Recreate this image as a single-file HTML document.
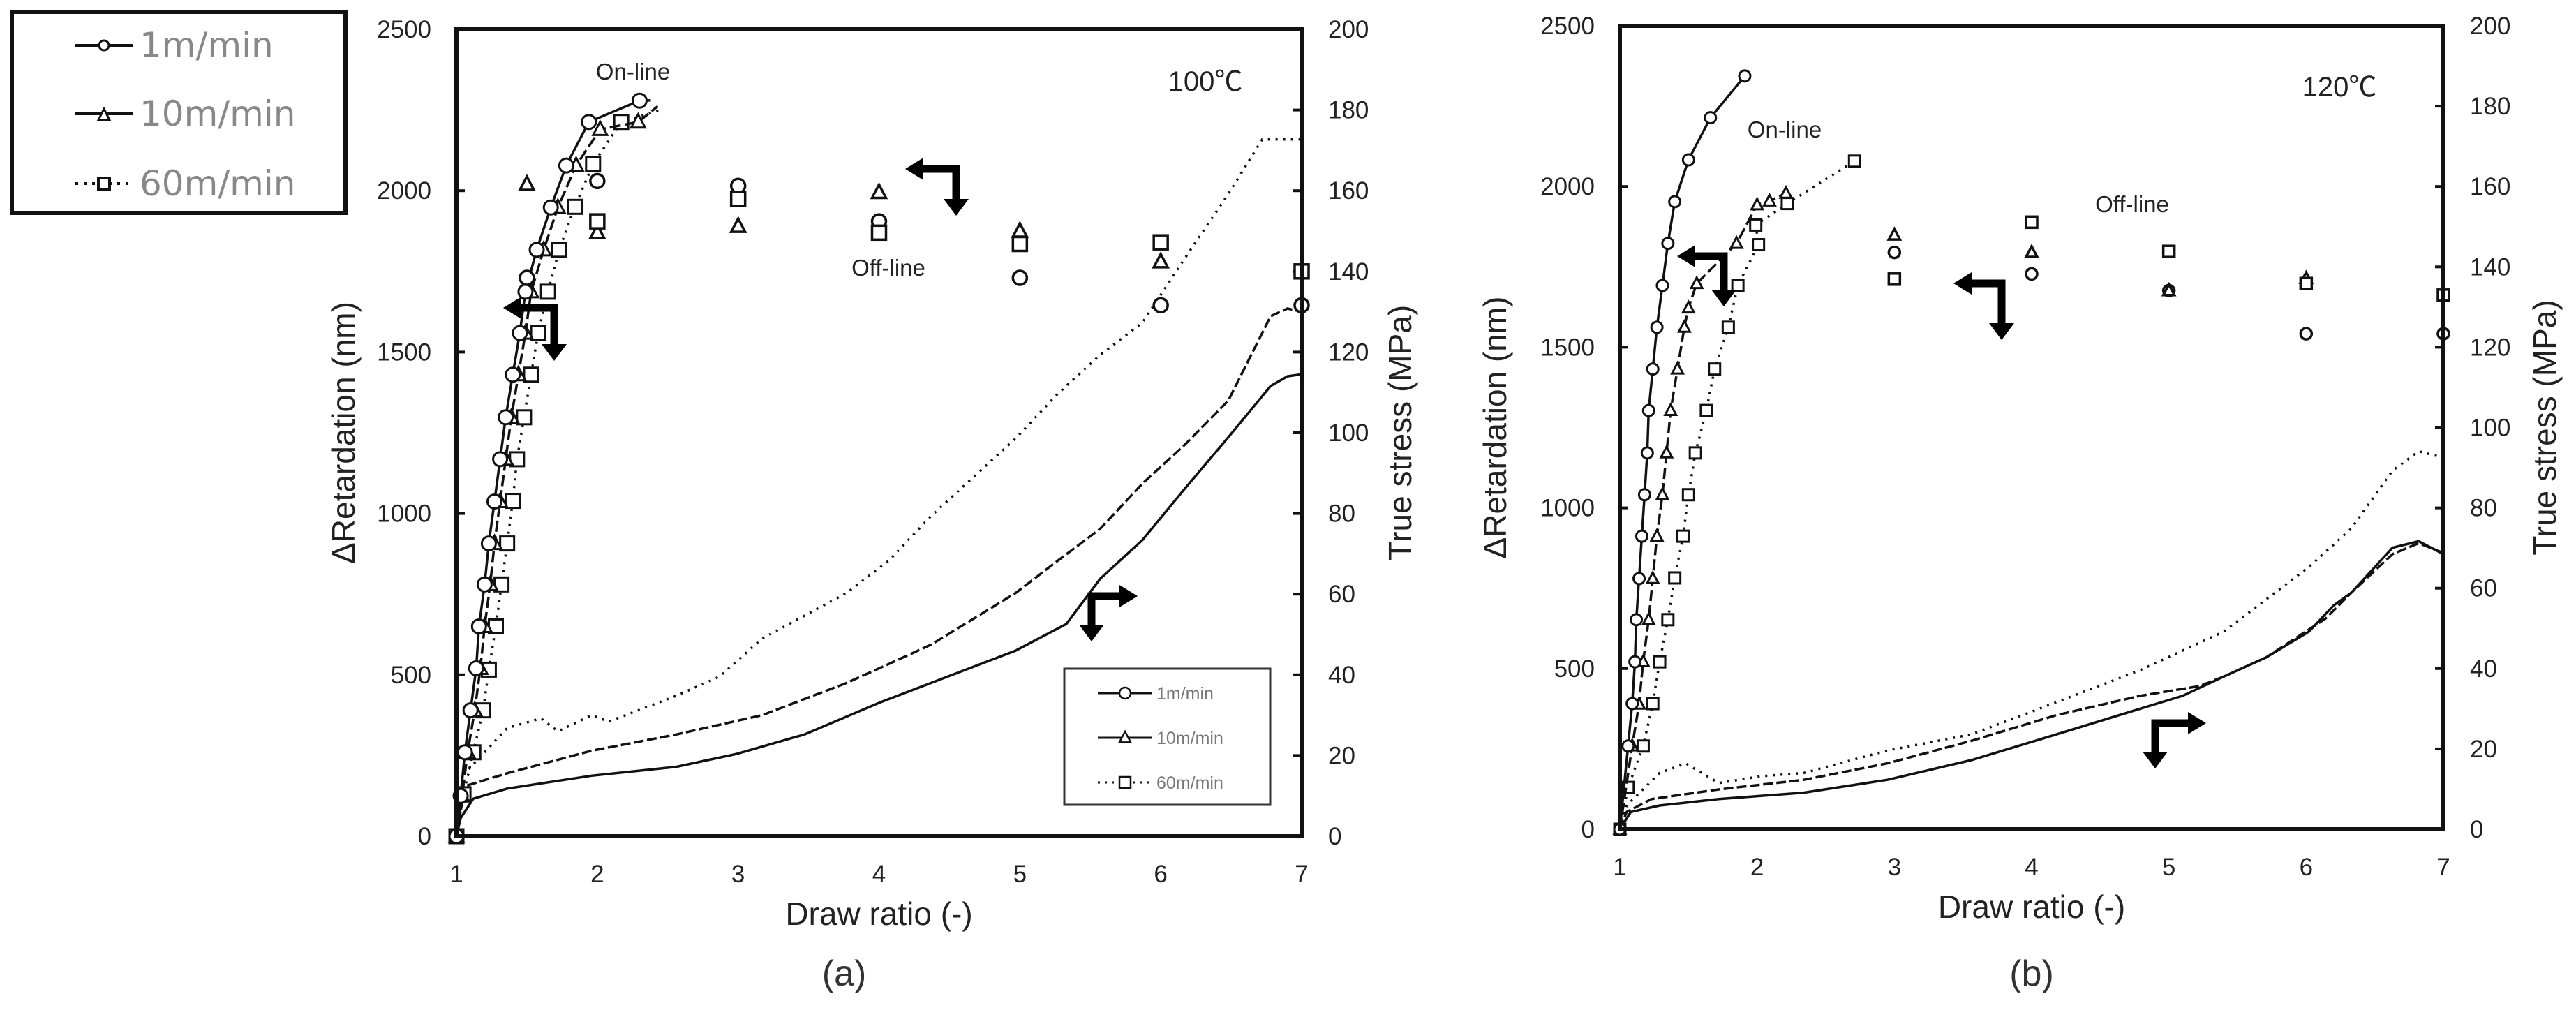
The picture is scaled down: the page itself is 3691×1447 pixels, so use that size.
<!DOCTYPE html>
<html><head><meta charset="utf-8">
<style>
html,body{margin:0;padding:0;background:#fff;}
svg{display:block;font-family:"Liberation Sans","Noto Sans CJK JP",sans-serif;}
</style></head>
<body>
<svg id="chart" width="3691" height="1447" viewBox="0 0 3691 1447" xmlns="http://www.w3.org/2000/svg">
<rect width="3691" height="1447" fill="#fff"/>
<g>
 <rect x="17" y="17" width="478" height="288" fill="#fff" stroke="#111" stroke-width="6"/>
 <g>
  <line x1="108" y1="65" x2="190" y2="65" stroke="#111" stroke-width="4"/>
  <circle cx="149" cy="65" r="7" fill="#fff" stroke="#111" stroke-width="3"/>
  <text x="200" y="82" font-family="DejaVu Sans, sans-serif" font-size="50" fill="#888">1m/min</text>
 </g>
 <g>
  <line x1="108" y1="163" x2="190" y2="163" stroke="#111" stroke-width="4"/>
  <path d="M141,172 L157,172 L149,156 Z" fill="#fff" stroke="#111" stroke-width="3"/>
  <text x="200" y="180" font-family="DejaVu Sans, sans-serif" font-size="50" fill="#888">10m/min</text>
 </g>
 <g>
  <line x1="108" y1="263" x2="190" y2="263" stroke="#111" stroke-width="4" stroke-dasharray="4 8"/>
  <rect x="141" y="255" width="16" height="16" fill="#fff" stroke="#111" stroke-width="4"/>
  <text x="200" y="280" font-family="DejaVu Sans, sans-serif" font-size="50" fill="#888">60m/min</text>
 </g>
</g>
<g id="panels"></g>
</svg>
<script>
// ---------- Panel (a) 100°C data ----------
const xTicks = [1,2,3,4,5,6,7];
const retTicks = [0,500,1000,1500,2000,2500];
const stressTicks = [0,20,40,60,80,100,120,140,160,180,200];

// on-line retardation (draw ratio, nm)
const aOn1x = [1,1.03,1.06,1.1,1.14,1.16,1.2,1.23,1.27,1.31,1.35,1.4,1.45,1.49,1.57,1.67,1.78,1.94,2.3];
const aOn1y = [0,125,260,390,520,650,780,907,1037,1168,1298,1430,1559,1687,1817,1948,2078,2213,2279];
const aOn10x = [1,1.04,1.08,1.13,1.17,1.2,1.24,1.27,1.31,1.35,1.39,1.44,1.49,1.53,1.62,1.72,1.85,2.02,2.29];
const aOn10y = [0,125,260,390,520,650,780,907,1037,1168,1298,1430,1559,1687,1817,1948,2078,2190,2213];
const aOn60x = [1,1.05,1.12,1.19,1.23,1.28,1.32,1.36,1.4,1.43,1.48,1.53,1.58,1.65,1.73,1.84,1.97,2.17];
const aOn60y = [0,130,260,390,516,650,780,907,1039,1168,1298,1430,1559,1687,1817,1950,2082,2213];
// off-line retardation
const aOff1x = [1.5,2,3,4,5,6,7];
const aOff1y = [1730,2030,2015,1905,1730,1645,1645];
const aOff10x = [1.5,2,3,4,5,6];
const aOff10y = [2020,1870,1890,1995,1875,1780];
const aOff60x = [2,3,4,5,6,7];
const aOff60y = [1905,1975,1870,1835,1840,1750];
// true stress curves (draw ratio, MPa)
const aS1x = [1,1.03,1.12,1.36,1.96,2.56,2.99,3.47,4.01,4.37,4.97,5.33,5.57,5.87,6.17,6.48,6.78,6.9,7];
const aS1y = [0,4.5,9.3,11.8,15,17.2,20.4,25.2,33.2,38,46,52.6,63.8,73.4,86.1,98.9,111.6,114,114.5];
const aS10x = [1,1.06,1.36,1.96,2.56,3.17,3.77,4.07,4.37,4.97,5.27,5.57,5.87,6.17,6.48,6.78,6.9,7];
const aS10y = [0,12.4,15.6,21.2,25.2,30,38,42.7,47.5,60.3,68.3,76.2,87.4,97,108,128.9,130.8,130];
const aS60x = [1,1.06,1.36,1.6,1.72,1.96,2.08,2.56,2.87,3.17,3.77,4.07,4.37,4.97,5.27,5.57,5.87,6.17,6.48,6.72,7];
const aS60y = [0,15.6,26.8,29.2,26,30,28.4,34.8,39.6,49,60.3,68.3,79.4,98.6,109.7,119.3,127.3,143.2,159.2,172.7,172.7];

// ---------- Panel (b) 120°C data ----------
const bOn1x = [1,1.06,1.09,1.11,1.12,1.14,1.16,1.18,1.2,1.21,1.24,1.27,1.31,1.35,1.4,1.5,1.66,1.91];
const bOn1y = [0,259,391,521,652,780,912,1041,1171,1303,1432,1562,1692,1823,1953,2083,2214,2344];
const bOn10x = [1,1.09,1.14,1.17,1.21,1.24,1.27,1.31,1.34,1.37,1.42,1.47,1.5,1.56,1.85,2.0,2.09,2.21];
const bOn10y = [0,259,389,521,652,780,912,1041,1171,1303,1432,1562,1622,1698,1823,1943,1955,1979];
const bOn60x = [1,1.06,1.17,1.24,1.29,1.35,1.4,1.46,1.5,1.55,1.63,1.69,1.79,1.86,2.01,1.99,2.22,2.71];
const bOn60y = [0,130,259,391,521,652,782,912,1041,1171,1303,1432,1562,1692,1819,1880,1947,2079];
const bOff1x = [3,4,5,6,7];
const bOff1y = [1795,1728,1676,1542,1542];
const bOff10x = [3,4,5,6];
const bOff10y = [1849,1795,1676,1714];
const bOff60x = [3,4,5,6,7];
const bOff60y = [1712,1889,1798,1698,1662];
const bS1x = [1,1.08,1.29,1.72,2.34,2.95,3.56,4.18,4.79,5.1,5.4,5.71,6.02,6.2,6.33,6.63,6.82,7];
const bS1y = [0,4.3,5.9,7.5,9.1,12.3,17.2,23.6,30,33.2,38,42.8,49.2,55.7,58.9,70.1,71.7,68.5];
const bS10x = [1,1.05,1.23,1.72,2.34,2.95,3.56,4.18,4.79,5.22,5.4,5.71,6.14,6.33,6.63,6.82,7];
const bS10y = [0,4.3,7.5,9.9,12.3,16.4,22,28.4,33.2,35.6,38,42.8,52.4,58.9,68.5,71.2,68.8];
const bS60x = [1,1.05,1.29,1.48,1.72,2.03,2.34,2.95,3.56,4.18,4.79,5.4,6.02,6.33,6.63,6.82,7];
const bS60y = [0,5.9,14,16.4,11.5,13.2,14,19.6,23.6,31.6,39.6,49.2,65.3,74.9,89.3,94.1,92.5];

const NS = "http://www.w3.org/2000/svg";
const root = document.getElementById('panels');
function mk(tag, attrs, parent){
  const e = document.createElementNS(NS, tag);
  for (const k in attrs) e.setAttribute(k, attrs[k]);
  (parent||root).appendChild(e);
  return e;
}
function txt(parent, x, y, s, size, anchor, extra){
  const t = mk('text', Object.assign({x:x, y:y, 'font-size':size, 'text-anchor':anchor||'middle', fill:'#222'}, extra||{}), parent);
  t.textContent = s;
  return t;
}

function marker(g, kind, cx, cy, r, sw){
  let e;
  if (kind==='circle') e = mk('circle',{cx:cx,cy:cy,r:r,fill:'#fff',stroke:'#111','stroke-width':sw},g);
  else if (kind==='tri') e = mk('path',{d:`M${cx-r},${cy+r*0.8} L${cx+r},${cy+r*0.8} L${cx},${cy-r*1.1} Z`,fill:'#fff',stroke:'#111','stroke-width':sw},g);
  else e = mk('rect',{x:cx-r,y:cy-r,width:2*r,height:2*r,fill:'#fff',stroke:'#111','stroke-width':sw},g);
  return e;
}

function arrowLeftDown(g, hx, y, cx, by){
  mk('path',{d:`M${hx+22},${y} L${cx},${y} L${cx},${by-20}`,fill:'none',stroke:'#000','stroke-width':11},g);
  mk('path',{d:`M${hx},${y} L${hx+26},${y-16} L${hx+26},${y+16} Z`,fill:'#000'},g);
  mk('path',{d:`M${cx},${by} L${cx-18},${by-24} L${cx+18},${by-24} Z`,fill:'#000'},g);
}
function arrowRightDown(g, cx, y, hx, by){
  mk('path',{d:`M${hx-22},${y} L${cx},${y} L${cx},${by-20}`,fill:'none',stroke:'#000','stroke-width':11},g);
  mk('path',{d:`M${hx},${y} L${hx-26},${y-16} L${hx-26},${y+16} Z`,fill:'#000'},g);
  mk('path',{d:`M${cx},${by} L${cx-18},${by-24} L${cx+18},${by-24} Z`,fill:'#000'},g);
}

function panel(cfg){
  const g = mk('g',{});
  
  
  const X = v => cfg.x0 + (v-1)/6*(cfg.x1-cfg.x0);
  const YR = v => cfg.y0 - v/2500*(cfg.y0-cfg.y1);
  const YS = v => cfg.y0 - v/200*(cfg.y0-cfg.y1);

  retTicks.forEach(t=>{
    mk('line',{x1:cfg.x0,x2:cfg.x0+12,y1:YR(t),y2:YR(t),stroke:'#111','stroke-width':4},g);
    const tl = txt(g, cfg.x0-36, YR(t)+12, String(t), 35, 'end');
    
    
  });
  stressTicks.forEach(t=>{
    mk('line',{x1:cfg.x1-12,x2:cfg.x1,y1:YS(t),y2:YS(t),stroke:'#111','stroke-width':4},g);
    const tl = txt(g, cfg.x1+38, YS(t)+12, String(t), 35, 'start');
    
    
  });
  xTicks.forEach(t=>{
    const tl = txt(g, X(t), cfg.y0+66, String(t), 35, 'middle');
    
    
  });

  const sPath = (xs, ys, dash, nm) => {
    const d = xs.map((x,i)=>(i?'L':'M')+X(x).toFixed(1)+','+YS(ys[i]).toFixed(1)).join(' ');
    const p = mk('path',{d:d,fill:'none',stroke:'#111','stroke-width':3.5,'stroke-dasharray':dash||'none'},g);
    
    
  };
  sPath(cfg.s1x, cfg.s1y, null, 'stress-curve-1m');
  sPath(cfg.s10x, cfg.s10y, '14 5', 'stress-curve-10m');
  sPath(cfg.s60x, cfg.s60y, '3 8', 'stress-curve-60m');

  const onSeries = (xs, ys, dash, kind, nm, ext) => {
    const pts = xs.map((x,i)=>[X(x),YR(ys[i])]);
    if (ext) pts.push([X(ext[0]),YR(ext[1])]);
    const d = pts.map((p,i)=>(i?'L':'M')+p[0].toFixed(1)+','+p[1].toFixed(1)).join(' ');
    const p = mk('path',{d:d,fill:'none',stroke:'#111','stroke-width':3.5,'stroke-dasharray':dash||'none'},g);
    
    
    xs.forEach((x,i)=>{
      const m = marker(g, kind, X(x), YR(ys[i]), cfg.mr, 3);
      
      
    });
  };
  onSeries(cfg.on60x, cfg.on60y, '3 8', 'rect', 'online-60m', cfg.ext60);
  onSeries(cfg.on10x, cfg.on10y, '16 6', 'tri', 'online-10m', cfg.ext10);
  onSeries(cfg.on1x, cfg.on1y, null, 'circle', 'online-1m', cfg.ext1);

  const offSeries = (xs, ys, kind, nm) => xs.forEach((x,i)=>{
    const m = marker(g, kind, X(x), YR(ys[i]), cfg.mr, 3.5);
    
    
  });
  offSeries(cfg.off1x, cfg.off1y, 'circle', 'offline-1m-point');
  offSeries(cfg.off10x, cfg.off10y, 'tri', 'offline-10m-point');
  offSeries(cfg.off60x, cfg.off60y, 'rect', 'offline-60m-point');

  const fr = mk('rect',{x:cfg.x0,y:cfg.y1,width:cfg.x1-cfg.x0,height:cfg.y0-cfg.y1,fill:'none',stroke:'#111','stroke-width':6},g);
  
  

  const yt = txt(g, 0, 0, 'ΔRetardation (nm)', 46, 'middle', {transform:`translate(${cfg.ytx},${(cfg.y0+cfg.y1)/2}) rotate(-90)`});
  
  
  const rt = txt(g, 0, 0, 'True stress (MPa)', 46, 'middle', {transform:`translate(${cfg.rtx},${(cfg.y0+cfg.y1)/2}) rotate(-90)`});
  
  
  const xt = txt(g, (cfg.x0+cfg.x1)/2, cfg.y0+127, 'Draw ratio (-)', 46, 'middle');
  
  
  const pl = txt(g, (cfg.x0+cfg.x1)/2 - (cfg.name==='panel-a'?50:0), 1412, cfg.label, 52, 'middle', {fill:'#333'});
  
  
  const tp = txt(g, cfg.tempX, cfg.tempY, cfg.temp, 40, 'middle');
  
  
  const on = txt(g, cfg.onX, cfg.onY, 'On-line', 33, 'middle');
  
  
  const off = txt(g, cfg.offX, cfg.offY, 'Off-line', 33, 'middle');
  
  

  const a1 = mk('g',{},g);
  
  
  arrowLeftDown(a1, ...cfg.arOn);
  const a2 = mk('g',{},g);
  
  
  arrowLeftDown(a2, ...cfg.arOff);
  const a3 = mk('g',{},g);
  
  
  arrowRightDown(a3, ...cfg.arS);
  return g;
}

panel({name:'panel-a', label:'(a)', temp:'100℃', x0:654, x1:1865, y0:1198, y1:42, mr:10,
  ytx:508, rtx:2022, tempX:1727, tempY:130, onX:907, onY:114, offX:1273, offY:395,
  on1x:aOn1x,on1y:aOn1y,on10x:aOn10x,on10y:aOn10y,on60x:aOn60x,on60y:aOn60y,
  ext1:[2.38,2280], ext10:[2.43,2262], ext60:[2.45,2250],
  off1x:aOff1x,off1y:aOff1y,off10x:aOff10x,off10y:aOff10y,off60x:aOff60x,off60y:aOff60y,
  s1x:aS1x,s1y:aS1y,s10x:aS10x,s10y:aS10y,s60x:aS60x,s60y:aS60y,
  arOn:[721,441,794,517], arOff:[1297,242,1370,309], arS:[1564,854,1630,919]});

panel({name:'panel-b', label:'(b)', temp:'120℃', x0:2321, x1:3501, y0:1188, y1:37, mr:8,
  ytx:2158, rtx:3662, tempX:3352, tempY:138, onX:2557, onY:197, offX:3055, offY:304,
  on1x:bOn1x,on1y:bOn1y,on10x:bOn10x,on10y:bOn10y,on60x:bOn60x,on60y:bOn60y,
  ext1:[1.91,2344], ext10:[2.21,1979], ext60:[2.71,2079],
  off1x:bOff1x,off1y:bOff1y,off10x:bOff10x,off10y:bOff10y,off60x:bOff60x,off60y:bOff60y,
  s1x:bS1x,s1y:bS1y,s10x:bS10x,s10y:bS10y,s60x:bS60x,s60y:bS60y,
  arOn:[2403,367,2470,439], arOff:[2799,406,2868,487], arS:[3088,1036,3161,1101]});

const lg = mk('g',{});


mk('rect',{x:1525,y:958,width:295,height:195,fill:'#fff',stroke:'#333','stroke-width':3},lg);
const legKinds = ['circle','tri','rect'];
const legLabels = ['1m/min','10m/min','60m/min'];
const legDash = ['none','none','3 7'];
legLabels.forEach((s,i)=>{
  const y = 993 + i*64;
  const e = mk('g',{},lg);
  
  
  mk('line',{x1:1573,x2:1650,y1:y,y2:y,stroke:'#111','stroke-width':3,'stroke-dasharray':legDash[i]},e);
  marker(e, legKinds[i], 1612, y, 8, 2.5);
  txt(e, 1657, y+9, s, 25, 'start', {fill:'#777'});
});
</script>
</body></html>
